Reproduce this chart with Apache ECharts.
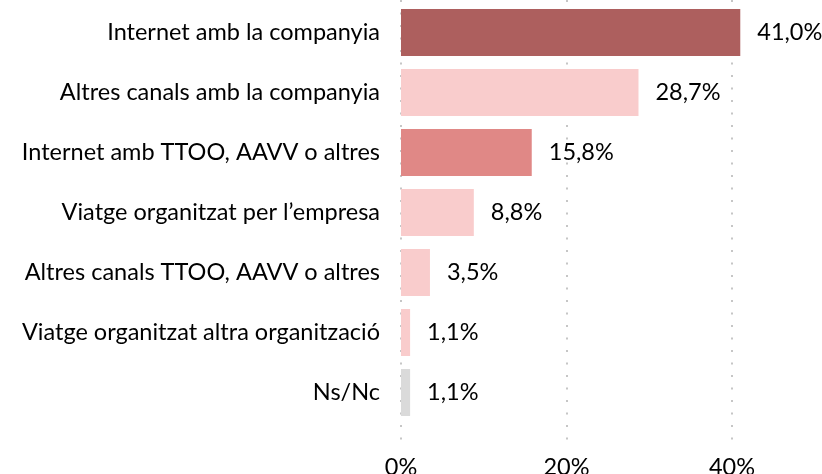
<!DOCTYPE html>
<html>
<head>
<meta charset="utf-8">
<script src="https://cdn.jsdelivr.net/npm/echarts@6/dist/echarts.min.js"></script>
<style>
  html, body { margin: 0; padding: 0; background: #fff; }
  #chart { width: 822px; height: 474px; }
</style>
</head>
<body>
<div id="chart"></div>
<script>
var categories = [
	'Internet amb la companyia',
	'Altres canals amb la companyia',
	'Internet amb TTOO, AAVV o altres',
	'Viatge organitzat per l\u2019empresa',
	'Altres canals TTOO, AAVV o altres',
	'Viatge organitzat altra organització',
	'Ns/Nc'
];
var values = [41.0, 28.7, 15.8, 8.8, 3.5, 1.1, 1.1];
var barColors = ['#AD5F5E', '#F9CCCC', '#E08886', '#F9CCCC', '#F9CCCC', '#F9CCCC', '#DADADA'];

var myChart = echarts.init(document.getElementById('chart'));
var font = 'Lato';

var option = {
	animation: false,
	grid: [{
		// plot area for bars
		left: 401,
		top: 2.5,
		height: 420,
		width: 165.5 * 3,
		outerBoundsMode: 'none',
		containLabel: false
	}, {
		// taller area only for the dotted gridlines
		left: 401,
		top: 0,
		height: 441,
		width: 165.5 * 3,
		outerBoundsMode: 'none',
		containLabel: false
	}],
	xAxis: [{
		type: 'value',
		gridIndex: 0,
		min: 0,
		max: 60,
		interval: 20,
		axisLine: { show: false },
		axisTick: { show: false },
		axisLabel: {
			margin: 33,
			fontFamily: font,
			fontSize: 23.5,
			color: '#000',
			formatter: function (v) { return v >= 60 ? '' : v + '%'; }
		},
		splitLine: { show: false }
	}, {
		type: 'value',
		gridIndex: 1,
		min: 0,
		max: 60,
		interval: 20,
		axisLine: { show: false },
		axisTick: { show: false },
		axisLabel: { show: false },
		splitLine: {
			lineStyle: {
				color: '#c6c6c6',
				width: 2,
				type: [2, 10.5]
			}
		}
	}],
	yAxis: [{
		type: 'category',
		gridIndex: 0,
		inverse: true,
		data: categories,
		axisLine: { show: false },
		axisTick: { show: false },
		axisLabel: {
			margin: 21,
			fontFamily: font,
			fontSize: 23.5,
			color: '#000'
		}
	}, {
		type: 'value',
		gridIndex: 1,
		show: false
	}],
	series: [{
		type: 'bar',
		xAxisIndex: 0,
		yAxisIndex: 0,
		z: 3,
		barCategoryGap: '21.7%',
		data: values.map(function (v, i) {
			return { value: v, itemStyle: { color: barColors[i] } };
		}),
		label: {
			show: true,
			position: 'right',
			distance: 17,
			fontFamily: font,
			fontSize: 23.5,
			color: '#000',
			formatter: function (p) { return p.value.toFixed(1).replace('.', ',') + '%'; }
		}
	}]
};
myChart.setOption(option, true);
</script>
</body>
</html>
